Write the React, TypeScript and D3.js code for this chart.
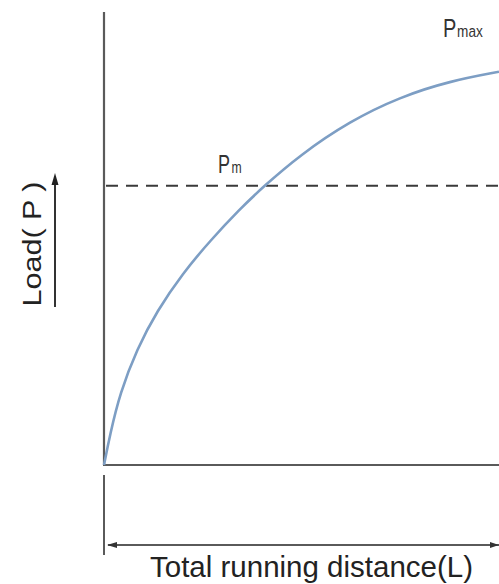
import React from "react";
import * as d3 from "d3";

// Data (abstract units: distance 0..100, load 0..100)
const distance = [0, 1.5, 4.05, 8.35, 13.4, 20, 26.8, 34.4, 40.25, 49.6, 62.3, 74.9, 87.6, 100];
const load = [0, 7.5, 18, 29, 38.5, 48, 56, 64, 69.5, 77.5, 86, 92, 96, 98.3];
const pmLevel = [69.8];
const labels = ["Pmax", "Pm", "Load( P )", "Total running distance(L)"];

const W = 499;
const H = 584;
const FONT = "'Liberation Sans', Arial, sans-serif";

export default function App() {
  const x = d3.scaleLinear().domain([0, 100]).range([104, 499]);
  const y = d3.scaleLinear().domain([0, 100]).range([465, 65]);
  const pts: [number, number][] = distance.map((d, i) => [d, load[i]]);
  const line = d3
    .line<[number, number]>()
    .x((d) => x(d[0]))
    .y((d) => y(d[1]))
    .curve(d3.curveBasis);
  const pmY = y(pmLevel[0]);
  const axisColor = "#5a5a5a";

  return (
    <svg
      width={W}
      height={H}
      style={{ position: "absolute", left: 0, top: 0, background: "#fff" }}
    >
      <rect x={0} y={0} width={W} height={H} fill="#fff" />
      {/* y axis */}
      <line x1={x(0)} y1={12} x2={x(0)} y2={y(0)} stroke={axisColor} strokeWidth={2.2} />
      {/* x axis */}
      <line x1={x(0) - 1} y1={y(0)} x2={W} y2={y(0)} stroke={axisColor} strokeWidth={2.2} />
      {/* lower extension tick */}
      <line x1={x(0)} y1={475} x2={x(0)} y2={555} stroke={axisColor} strokeWidth={2} />
      {/* dimension arrow */}
      <line x1={x(0) + 4} y1={545} x2={W} y2={545} stroke={axisColor} strokeWidth={1.8} />
      <polygon points={`${x(0) + 3},545 ${x(0) + 13},542 ${x(0) + 13},548`} fill="#333" />
      <polygon points={`${W},545 ${W - 9},542 ${W - 9},548`} fill="#333" />
      {/* Pm dashed line */}
      <line
        x1={x(0) + 2}
        y1={pmY}
        x2={W}
        y2={pmY}
        stroke="#3a3a3a"
        strokeWidth={2}
        strokeDasharray="12 8"
      />
      {/* curve */}
      <path d={line(pts) || ""} fill="none" stroke="#7d9ec4" strokeWidth={2.6} />
      {/* Pmax label */}
      <text x={443} y={37} fontFamily={FONT} fill="#333" transform="translate(443,37) scale(0.8,1) translate(-443,-37)">
        <tspan fontSize={25}>P</tspan>
        <tspan fontSize={17} dx={1}>max</tspan>
      </text>
      {/* Pm label */}
      <text x={218} y={173} fontFamily={FONT} fill="#333" transform="translate(218,173) scale(0.72,1) translate(-218,-173)">
        <tspan fontSize={25}>P</tspan>
        <tspan fontSize={17} dx={2}>m</tspan>
      </text>
      {/* Y label */}
      <text
        transform="translate(41,244) rotate(-90)"
        textAnchor="middle"
        fontFamily={FONT}
        fontSize={25.5}
        fill="#222"
        textLength={125}
        lengthAdjust="spacingAndGlyphs"
      >
        {labels[2]}
      </text>
      <line x1={55} y1={307} x2={55} y2={182} stroke="#333" strokeWidth={2} />
      <polygon points="55,173 51.5,185 58.5,185" fill="#222" />
      {/* X label */}
      <text
        x={150}
        y={577}
        fontFamily={FONT}
        fontSize={29}
        fill="#222"
        textLength={323}
        lengthAdjust="spacingAndGlyphs"
      >
        {labels[3]}
      </text>
    </svg>
  );
}
